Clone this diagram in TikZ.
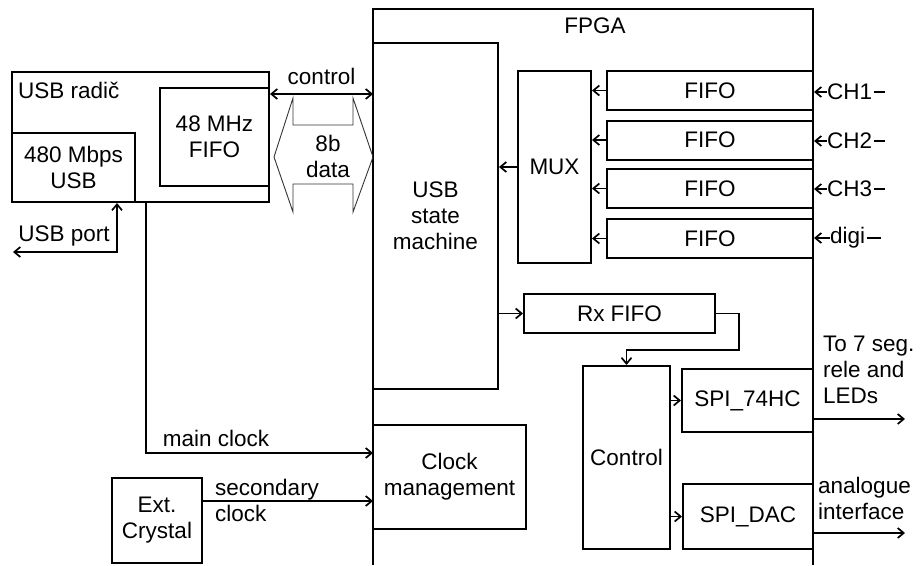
\documentclass[tikz,border=0pt]{standalone}
\usepackage{fontspec}
\setmainfont{Liberation Sans}
\usepackage{tikz}
\usetikzlibrary{arrows.meta,positioning,calc}

\begin{document}
\begin{tikzpicture}[x=1pt, y=-1pt, >={Straight Barb[length=6pt,width=10pt]},
  every node/.style={font=\fontsize{22.5}{26}\selectfont, inner sep=0pt},
  blk/.style={draw, line width=2pt, align=center},
  wire/.style={line width=1.7pt}]
  \useasboundingbox (0,0) rectangle (921,565);

  \draw[line width=2pt] (373,565) -- (373,9) -- (813,9) -- (813,565);
  \node (fpga) at (595,26) {FPGA};

  \node[blk, minimum width=257pt, minimum height=130pt] (usbr) at (140.5,137) {};
  \node[anchor=west] (usbrl) at (18,90) {USB radič};
  \node[blk, minimum width=123pt, minimum height=69pt] (mbps) at (73.5,167.5) {480 Mbps\\USB};
  \node[blk, minimum width=109pt, minimum height=98pt] (mhz) at (214.5,137) {48 MHz\\FIFO};

  \node[blk, minimum width=125pt, minimum height=346pt] (usbsm) at (435.5,216) {USB\\state\\machine};
  \node[blk, minimum width=73pt, minimum height=192pt] (mux) at (554.5,167) {MUX};
  \node[blk, minimum width=206pt, minimum height=39pt] (fifo1) at (710,90.5) {FIFO};
  \node[blk, minimum width=206pt, minimum height=39pt] (fifo2) at (710,140) {FIFO};
  \node[blk, minimum width=206pt, minimum height=39pt] (fifo3) at (710,188.5) {FIFO};
  \node[blk, minimum width=206pt, minimum height=39pt] (fifo4) at (710,238.5) {FIFO};
  \node[anchor=west] (ch1) at (827,92) {CH1};
  \node[anchor=west] (ch2) at (827,141) {CH2};
  \node[anchor=west] (ch3) at (827,189) {CH3};
  \node[anchor=west] (digi) at (830,238) {digi};

  \node[blk, minimum width=191pt, minimum height=39pt] (rx) at (619.5,313.5) {Rx FIFO};
  \node[blk, minimum width=87pt, minimum height=183pt] (ctrl) at (626.5,457.5) {Control};
  \node[blk, minimum width=131pt, minimum height=63pt] (spi74) at (747.5,400.5) {SPI\_74HC};
  \node[blk, minimum width=130pt, minimum height=65pt] (spidac) at (748,516.5) {SPI\_DAC};
  \node[blk, minimum width=153pt, minimum height=104pt] (clkm) at (449.5,477) {Clock\\management};
  \node[blk, minimum width=90pt, minimum height=85pt] (xtal) at (157,520.5) {Ext.\\Crystal};

  \coordinate (ctl) at (373,94);
  \coordinate (port) at (13,252);
  \coordinate (mclk) at (373,453);
  \coordinate (sclk) at (373,501);
  \coordinate (out1) at (905,419);
  \coordinate (out2) at (905,533);

  \draw[wire,<->] (usbr.east |- ctl) -- (ctl) node[midway, above=8pt] {control};
  \draw[gray!40!black, line width=0.9pt] (274,157) -- (293,98) -- (293,125) -- (353,125) -- (353,98)
    -- (373,157) -- (353,212) -- (353,184) -- (293,184) -- (293,212) -- cycle;
  \node[align=center] (data) at (328,156) {8b\\data};

  \draw[wire,<->] ($(usbr.south west)+(106,0)$) |- (port);
  \node (portl) at (64,236) {USB port};
  \draw[wire,->] ($(usbr.south west)+(135,0)$) |- (mclk);
  \node (mclkl) at (216,438) {main clock};
  \draw[wire,->] (xtal.east |- sclk) -- (sclk);
  \node[anchor=west, align=left] (sclkl) at (215,500.5) {secondary\\clock};

  \draw[wire,->] (mux.west) -- (usbsm.east |- mux.west);
  \draw[wire,->] (fifo1.west) -- (mux.east |- fifo1.west);
  \draw[wire,->] (fifo2.west) -- (mux.east |- fifo2.west);
  \draw[wire,->] (fifo3.west) -- (mux.east |- fifo3.west);
  \draw[wire,->] (fifo4.west) -- (mux.east |- fifo4.west);
  \draw[wire,->] (ch1.west) -- (fifo1.east |- ch1.west);
  \draw[wire,->] (ch2.west) -- (fifo2.east |- ch2.west);
  \draw[wire,->] (ch3.west) -- (fifo3.east |- ch3.west);
  \draw[wire,->] (digi.west) -- (fifo4.east |- digi.west);
  \draw[wire] (ch1.east) ++(2,0) -- ++(11,0);
  \draw[wire] (ch2.east) ++(2,0) -- ++(11,0);
  \draw[wire] (ch3.east) ++(2,0) -- ++(11,0);
  \draw[wire] (digi.east) ++(2,0) -- ++(14,0);

  \draw[wire,->] (usbsm.east |- rx.west) -- (rx.west);
  \draw[wire,->] (rx.east) -| ++(23,36.5) -| (ctrl.north);
  \draw[wire,->] (ctrl.east |- spi74.west) -- (spi74.west);
  \draw[wire,->] (ctrl.east |- spidac.west) -- (spidac.west);

  \draw[wire,->] (spi74.east |- out1) -- (out1);
  \node[anchor=west, align=left] (outl1) at (823,369.5) {To 7 seg.\\rele and\\LEDs};
  \draw[wire,->] (spidac.east |- out2) -- (out2);
  \node[anchor=west, align=left] (outl2) at (818,498) {analogue\\interface};
\end{tikzpicture}
\end{document}
